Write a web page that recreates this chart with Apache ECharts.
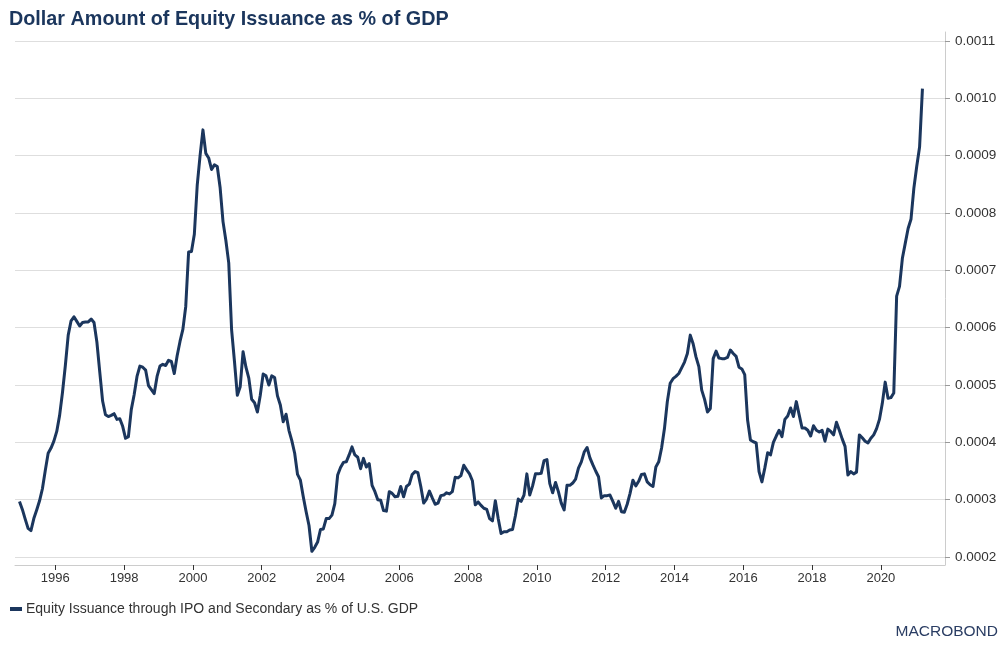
<!DOCTYPE html>
<html>
<head>
<meta charset="utf-8">
<script src="https://cdn.jsdelivr.net/npm/echarts@6/dist/echarts.min.js"></script>
<style>
html,body{margin:0;padding:0;background:#fff;}
#chart{width:1006px;height:649px;}
</style>
</head>
<body>
<div id="chart"></div>
<script>
// Monthly observations (mid-month), first value = Dec 1994
const startYear = 1994, startMonth = 12;
const values1990s = [
  0.000297,
  0.000283,0.000266,0.000250,0.000246,0.000267,0.000282,0.000298,0.000319,0.000351,0.000381,0.000390,0.000402,
  0.000419,0.000447,0.000487,0.000534,0.000587,0.000612,0.000619,0.000611,0.000603,0.000609,0.000610,0.000610,
  0.000615,0.000609,0.000575,0.000523,0.000472,0.000448,0.000445,0.000447,0.000450,0.000440,0.000441,0.000428,
  0.000407,0.000410,0.000457,0.000483,0.000515,0.000533,0.000531,0.000526,0.000499,0.000492,0.000485,0.000515,
  0.000533,0.000536,0.000534,0.000543,0.000541,0.000520,0.000551,0.000576,0.000597,0.000637,0.000732,0.000733
];
const values2000s = [
  0.000763,0.000848,0.000900,0.000945,0.000904,0.000896,0.000876,0.000884,0.000881,0.000844,0.000785,0.000752,
  0.000713,0.000596,0.000541,0.000482,0.000497,0.000558,0.000531,0.000512,0.000475,0.000469,0.000453,0.000482,
  0.000519,0.000516,0.000500,0.000516,0.000513,0.000481,0.000465,0.000436,0.000449,0.000421,0.000403,0.000381,
  0.000344,0.000334,0.000305,0.000279,0.000255,0.000210,0.000217,0.000226,0.000248,0.000249,0.000267,0.000267,
  0.000273,0.000293,0.000343,0.000356,0.000365,0.000366,0.000378,0.000392,0.000378,0.000374,0.000354,0.000372,
  0.000357,0.000363,0.000325,0.000314,0.000300,0.000299,0.000281,0.000280,0.000314,0.000311,0.000305,0.000306,
  0.000323,0.000305,0.000323,0.000327,0.000344,0.000349,0.000347,0.000323,0.000294,0.000301,0.000315,0.000303,
  0.000292,0.000294,0.000307,0.000308,0.000312,0.000310,0.000314,0.000339,0.000338,0.000342,0.000360,0.000352,
  0.000345,0.000333,0.000291,0.000296,0.000290,0.000285,0.000283,0.000267,0.000263,0.000298,0.000267,0.000241,
  0.000244,0.000244,0.000247,0.000248,0.000272,0.000301,0.000297,0.000308,0.000345,0.000308,0.000324,0.000345
];
const values2010s = [
  0.000345,0.000346,0.000368,0.000370,0.000328,0.000312,0.000330,0.000314,0.000294,0.000282,0.000325,0.000325,
  0.000329,0.000336,0.000355,0.000366,0.000383,0.000391,0.000373,0.000361,0.000350,0.000340,0.000303,0.000307,
  0.000307,0.000308,0.000297,0.000285,0.000297,0.000279,0.000278,0.000292,0.000311,0.000334,0.000324,0.000332,
  0.000344,0.000345,0.000331,0.000326,0.000323,0.000357,0.000366,0.000390,0.000424,0.000471,0.000503,0.000511,
  0.000515,0.000520,0.000530,0.000540,0.000555,0.000587,0.000572,0.000549,0.000532,0.000491,0.000475,0.000453,
  0.000459,0.000546,0.000559,0.000547,0.000546,0.000546,0.000548,0.000561,0.000555,0.000550,0.000531,0.000528,
  0.000518,0.000439,0.000404,0.000401,0.000399,0.000349,0.000331,0.000355,0.000382,0.000378,0.000400,0.000411,
  0.000421,0.000410,0.000440,0.000446,0.000460,0.000445,0.000471,0.000448,0.000425,0.000425,0.000421,0.000411,
  0.000429,0.000421,0.000418,0.000421,0.000402,0.000423,0.000419,0.000413,0.000435,0.000421,0.000406,0.000393,
  0.000343,0.000349,0.000345,0.000348,0.000413,0.000408,0.000402,0.000399,0.000407,0.000413,0.000424,0.000440
];
const values2020s = [
  0.000468,0.000505,0.000477,0.000478,0.000486,0.000655,0.000672,0.000721,0.000747,0.000773,0.000789,0.000843,
  0.000881,0.000915,0.001017
];
const xTickYears = [1996,1998,2000,2002,2004,2006,2008,2010,2012,2014,2016,2018,2020];
const yTicks = [0.0002,0.0003,0.0004,0.0005,0.0006,0.0007,0.0008,0.0009,0.0010,0.0011];
const seriesName = 'Equity Issuance through IPO and Secondary as % of U.S. GDP';
const titleText = 'Dollar Amount of Equity Issuance as % of GDP';

const allValues = values1990s.concat(values2000s, values2010s, values2020s);
const seriesData = allValues.map((v, i) => {
  const mIdx = (startMonth - 1) + i;
  const yr = startYear + Math.floor(mIdx / 12);
  const mo = mIdx % 12;
  return [yr + (mo + 0.5) / 12, v];
});

const NAVY = '#1b365d';
const FONT = '"Liberation Sans", Arial, sans-serif';
const xMin = 1994.828, xMax = 2021.864;

const chart = echarts.init(document.getElementById('chart'), null, {renderer: 'canvas'});
chart.setOption({
  animation: false,
  backgroundColor: '#fff',
  textStyle: {fontFamily: FONT},
  title: {
    text: titleText, left: 4, top: 5,
    textStyle: {fontFamily: FONT, fontSize: 19.8, fontWeight: 'bold', color: NAVY}
  },
  legend: {
    left: 5, top: 597, icon: 'rect', itemWidth: 12, itemHeight: 4, itemGap: 4,
    textStyle: {fontFamily: FONT, fontSize: 14, color: '#333', padding: [0,0,0,-1]},
    data: [seriesName]
  },
  graphic: [{
    type: 'text', right: 8, top: 624,
    style: {text: 'MACROBOND', fontFamily: FONT, fontSize: 15.5, fill: '#2a3d63'}
  }],
  grid: [
    {left: 15, right: 61, top: 41, bottom: 92},
    {left: 15, right: 61, top: 32, bottom: 84}
  ],
  xAxis: [
    {gridIndex: 0, type: 'value', min: xMin, max: xMax, show: false},
    {gridIndex: 1, type: 'value', min: xMin, max: xMax,
      axisLine: {show: true, lineStyle: {color: '#cccccc', width: 1}},
      axisTick: {show: true, length: 5, lineStyle: {color: '#333'}, customValues: xTickYears},
      axisLabel: {show: true, color: '#333', fontSize: 13, margin: 7, customValues: xTickYears, formatter: v => String(Math.round(v))},
      splitLine: {show: false}
    }
  ],
  yAxis: [
    {gridIndex: 0, type: 'value', position: 'right', min: 0.0002, max: 0.0011, interval: 0.0001,
      axisLine: {show: false},
      axisTick: {show: true, length: 5, lineStyle: {color: '#999'}},
      axisLabel: {color: '#333', fontSize: 13.5, margin: 10, formatter: v => v.toFixed(4)},
      splitLine: {show: true, lineStyle: {color: '#dedede', width: 1}}
    },
    {gridIndex: 1, type: 'value', position: 'right', min: 0, max: 1,
      axisLine: {show: true, lineStyle: {color: '#cccccc', width: 1}},
      axisTick: {show: false}, axisLabel: {show: false}, splitLine: {show: false}
    }
  ],
  series: [{
    name: seriesName, type: 'line', xAxisIndex: 0, yAxisIndex: 0,
    data: seriesData, showSymbol: false, symbol: 'none',
    lineStyle: {color: NAVY, width: 3, join: 'round'},
    itemStyle: {color: NAVY}
  }]
});
</script>
</body>
</html>
